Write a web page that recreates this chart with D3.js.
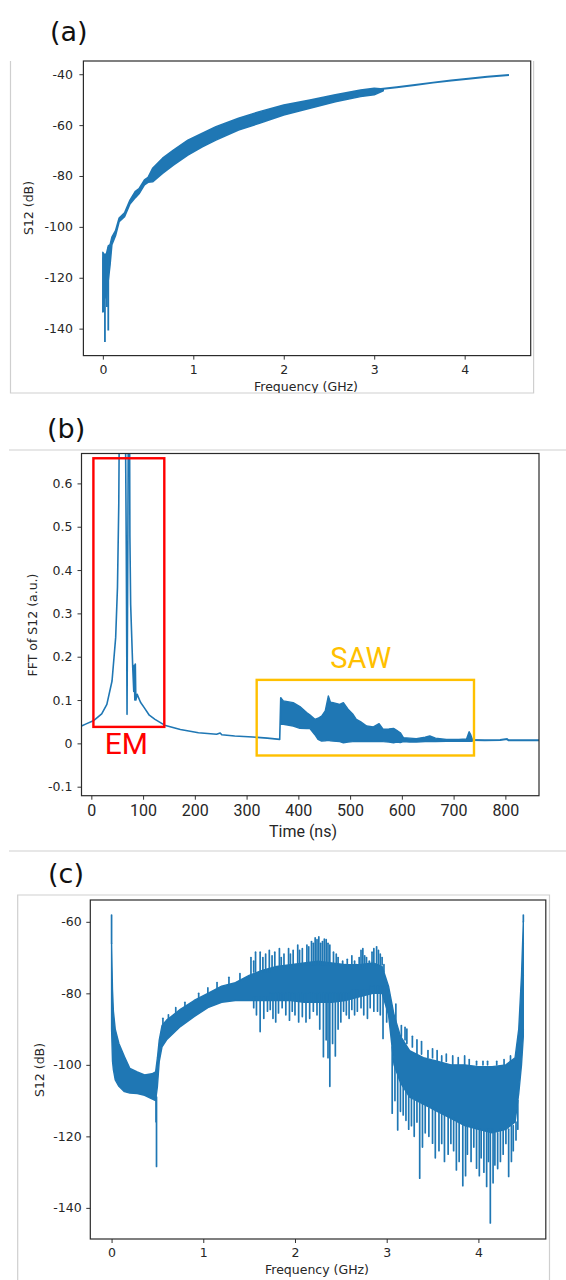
<!DOCTYPE html>
<html>
<head>
<meta charset="utf-8">
<script src="https://cdn.jsdelivr.net/npm/d3@7"></script>
<style>
body { margin: 0; background: #fff; }
svg { display: block; }
</style>
</head>
<body>
<svg id="fig" width="566" height="1280"></svg>
<script>
// ---------- panel (a): S12 vs frequency ----------
var freqA = [0, 0.02, 0.04, 0.06, 0.08, 0.10, 0.14, 0.18, 0.24, 0.30, 0.36, 0.40, 0.46, 0.50, 0.55, 0.66, 0.78, 0.94, 1.10, 1.25, 1.50, 1.73, 2.00, 2.29, 2.57, 2.85, 3.00, 3.10];
var hiA = [-110, -111, -110.5, -107.5, -107, -104, -101.5, -96.5, -94.5, -89.5, -86, -85, -81.5, -80.5, -77, -73, -69.8, -65.9, -63.2, -60.6, -57.3, -54.7, -52.1, -50.1, -48.1, -46.2, -45.5, -45.8];
var loA = [-133.5, -126, -127.5, -121, -115, -107, -103.5, -98, -96, -91, -88.5, -87, -83.5, -82.5, -82.3, -79, -75.7, -71.8, -68.5, -65.9, -61.9, -59.3, -56, -53.4, -50.8, -48.8, -48.1, -46.5];
var tailFreqA = [3.05, 3.25, 3.45, 3.65, 3.85, 4.04, 4.25, 4.49];
var tailDbA = [-45.9, -45.1, -44.2, -43.3, -42.5, -41.8, -41.0, -40.3];
var spikesA = [[0.005, -112, -133.5], [0.023, -111, -145.3], [0.035, -112, -128.2], [0.045, -110, -131.5], [0.06, -108, -140.7]];
var yTicksA = [-40, -60, -80, -100, -120, -140];
var xTicksA = [0, 1, 2, 3, 4];

// ---------- panel (b): FFT of S12 vs time ----------
var timeB = [-19, -10, 5, 20, 30, 40, 47, 50.5, 53, 55, 65, 67.5, 69, 70.5, 72, 73.5, 74.5, 76, 80, 82, 83, 84, 85, 86, 88.6, 95, 102.5, 112, 123, 141.6, 172, 207, 242, 249, 252, 277, 312, 340, 364, 366];
var ampB = [0.040, 0.045, 0.053, 0.068, 0.09, 0.144, 0.244, 0.36, 0.55, 0.9, 0.9, 0.45, 0.067, 0.45, 0.9, 0.9, 0.48, 0.32, 0.175, 0.12, 0.18, 0.10, 0.183, 0.10, 0.113, 0.095, 0.082, 0.065, 0.0555, 0.042, 0.032, 0.0245, 0.021, 0.024, 0.02, 0.017, 0.0146, 0.012, 0.0093, 0.1055];
var sawT = [366, 371, 390, 403, 416, 422, 432, 438, 445, 452, 458, 462, 467, 480, 487, 496, 505, 512, 520, 532, 545, 556, 564, 575, 584, 590, 597, 603, 615, 628, 645, 654, 665, 686, 710, 725, 730, 733, 736];
var sawHi = [0.1055, 0.098, 0.094, 0.085, 0.071, 0.066, 0.0555, 0.058, 0.063, 0.075, 0.1095, 0.095, 0.094, 0.09, 0.094, 0.079, 0.068, 0.0555, 0.05, 0.04, 0.038, 0.0454, 0.0324, 0.033, 0.0345, 0.03, 0.0245, 0.013, 0.012, 0.011, 0.014, 0.017, 0.012, 0.009, 0.009, 0.01, 0.0269, 0.02, 0.01];
var sawLo = [0.044, 0.044, 0.04, 0.0347, 0.034, 0.0347, 0.02, 0.0093, 0.0053, 0.006, 0.007, 0.006, 0.0053, 0.004, 0.0015, 0.003, 0.004, 0.005, 0.004, 0.005, 0.004, 0.005, 0.004, 0.003, 0.0015, 0.003, 0.002, 0.004, 0.003, 0.003, 0.004, 0.004, 0.004, 0.005, 0.005, 0.005, 0.005, 0.005, 0.005];
var tailT = [736, 760, 790, 803, 806, 820, 865];
var tailV = [0.008, 0.007, 0.0078, 0.010, 0.007, 0.007, 0.007];
var emBox = [4, 141, 0.038, 0.658];       // t0, t1, v0, v1
var sawBox = [319.5, 739.4, -0.028, 0.1465];
var yTicksB = [0.6, 0.5, 0.4, 0.3, 0.2, 0.1, 0, -0.1];
var xTicksB = [0, 100, 200, 300, 400, 500, 600, 700, 800];

// ---------- panel (c): S12 vs frequency (gated) ----------
var coreF = [0.00, 0.01, 0.02, 0.04, 0.08, 0.14, 0.20, 0.28, 0.36, 0.44, 0.48, 0.50, 0.52, 0.55, 0.60, 0.75, 0.90, 1.05, 1.20, 1.35, 1.50, 1.65, 1.80, 1.95, 2.10, 2.25, 2.40, 2.55, 2.70, 2.85, 2.95, 3.02, 3.08, 3.15, 3.25, 3.40, 3.55, 3.70, 3.85, 4.00, 4.15, 4.30, 4.40, 4.44, 4.47, 4.49];
var coreHi = [-66, -79, -85, -90, -94, -97.7, -101, -102, -102.8, -102.5, -102, -98, -93, -89, -87.5, -84.5, -82, -80, -78, -77, -75, -73.5, -72.5, -72, -71.5, -71, -71.5, -72, -72, -71.5, -72.5, -78, -86, -92, -96, -98, -99, -100, -100, -100.5, -100.5, -100, -98, -90, -75, -60];
var coreLo = [-90, -99, -101.4, -104.2, -106, -107.5, -107.9, -108, -108.5, -109.5, -110, -106, -99, -95, -93, -89.3, -86.5, -84, -82.5, -82, -82, -82, -82, -82, -82.5, -82.5, -82.5, -82, -81, -80, -80, -86, -100, -105, -109, -111, -113, -115, -117, -118, -119, -118, -116, -108, -100, -92];
var spikesUpC = [[0.0, -66, -58.1], [4.49, -60, -58.1],
    [0.56, -89, -87], [0.62, -87.5, -86], [0.70, -85.5, -84], [0.80, -84, -82.5], [0.95, -81.5, -80], [1.05, -80, -78.5], [1.15, -78.5, -77], [1.28, -77.5, -75.5], [1.40, -76.5, -74.5],
    [1.52, -75, -70], [1.55, -74, -71], [1.57, -74, -68.5], [1.62, -74, -68.5], [1.65, -74, -70], [1.68, -74, -69], [1.72, -74, -68], [1.75, -73, -69.5], [1.78, -73, -68.5], [1.83, -73, -67.5], [1.85, -73, -70], [1.88, -73, -69], [1.93, -73, -67.5], [1.95, -73, -69], [1.98, -73, -68],
    [2.03, -72, -66.5], [2.05, -72, -68], [2.08, -72, -67.5], [2.13, -72, -66.5], [2.15, -72, -67], [2.18, -72, -65.5], [2.20, -72, -66], [2.22, -72, -64.5], [2.24, -72, -65], [2.26, -72, -64.2], [2.28, -72, -66], [2.30, -72, -65.5], [2.32, -72, -64.8], [2.34, -72, -65], [2.36, -72, -66], [2.38, -72, -66.5], [2.42, -72, -68.5], [2.45, -72, -69], [2.47, -72, -70], [2.52, -72, -71], [2.55, -73, -72], [2.57, -73, -70.5], [2.62, -73, -69.5], [2.65, -73, -71], [2.67, -73, -72], [2.70, -73, -70], [2.72, -73, -68], [2.74, -73, -67.5], [2.76, -73, -69.5], [2.78, -73, -70], [2.81, -72, -71], [2.84, -72, -68.5], [2.86, -72, -67.5], [2.89, -72, -67], [2.91, -72, -68], [2.93, -72, -69], [2.95, -72, -70], [2.97, -74, -72],
    [3.10, -88, -83], [3.16, -92, -89], [3.20, -93, -89.5], [3.22, -94, -90], [3.28, -95, -92], [3.33, -97, -93], [3.38, -97, -93.5], [3.45, -98, -96], [3.50, -98, -95.5], [3.55, -99, -96], [3.60, -99, -97.5], [3.65, -99, -97], [3.72, -100, -97.5], [3.78, -100, -98], [3.85, -100, -97.5], [3.90, -100, -98.5], [3.98, -100, -99], [4.05, -100, -99], [4.10, -100, -99], [4.20, -100, -99], [4.28, -100, -98.5], [4.35, -99, -97.5]];
var spikesDownC = [[0.485, -109, -115.9], [0.49, -109, -128.4],
    [1.55, -81, -84], [1.58, -81, -86], [1.62, -81, -90.7], [1.66, -81, -87], [1.70, -81, -85], [1.73, -80, -84.5], [1.76, -80, -87], [1.79, -80, -88], [1.82, -80, -85.5], [1.86, -80, -84], [1.90, -80, -86], [1.94, -80, -87.5], [1.97, -80, -85], [2.00, -80, -86], [2.04, -80, -88], [2.08, -80, -86.5], [2.12, -80, -88], [2.16, -80, -87], [2.20, -80, -85], [2.24, -80, -86], [2.27, -80, -90], [2.31, -80, -97.7], [2.34, -80, -93], [2.36, -80, -98], [2.38, -80, -106], [2.41, -80, -94], [2.44, -80, -97.5], [2.47, -80, -90], [2.50, -80, -88], [2.53, -80, -85], [2.56, -80, -86], [2.59, -80, -87], [2.62, -79, -84.5], [2.65, -79, -86], [2.68, -79, -85], [2.72, -79, -84], [2.75, -79, -86], [2.79, -79, -87], [2.82, -78, -84], [2.86, -78, -85], [2.90, -78, -85], [2.93, -78, -86], [2.96, -78, -92.6], [3.00, -78, -88],
    [3.06, -95, -113.5], [3.09, -100, -110], [3.12, -103, -118.2], [3.15, -105, -113], [3.18, -106, -114], [3.21, -107, -115.5], [3.24, -108, -118], [3.27, -109, -117], [3.30, -110, -120], [3.33, -110, -116], [3.36, -110, -131.7], [3.39, -111, -123], [3.42, -111, -119], [3.46, -112, -120], [3.50, -112, -121.9], [3.53, -112, -126], [3.57, -113, -124], [3.60, -113, -122], [3.63, -114, -127], [3.67, -114, -125], [3.70, -115, -122], [3.73, -115, -124], [3.76, -116, -129.4], [3.79, -116, -127], [3.83, -117, -133.8], [3.86, -117, -131], [3.88, -117, -125], [3.92, -117, -127], [3.95, -117, -123], [3.98, -118, -128.9], [4.01, -118, -131], [4.03, -118, -126], [4.06, -118, -130], [4.09, -118, -134], [4.11, -118, -127], [4.13, -118, -144.2], [4.16, -118, -133], [4.18, -119, -128], [4.21, -119, -129], [4.24, -118, -127], [4.27, -118, -125], [4.30, -118, -122], [4.33, -118, -131.2], [4.36, -117, -127], [4.38, -117, -124], [4.41, -116, -121], [4.43, -110, -118]];
var yTicksC = [-60, -80, -100, -120, -140];
var xTicksC = [0, 1, 2, 3, 4];

var blue = "#1f77b4";
var tickFont = "DejaVu Sans";
var tickSize = "12.5px";
var svg = d3.select("#fig");
var defs = svg.append("defs");

// light gray screenshot borders
var gray = svg.append("g").attr("stroke", "#cfcfcf").attr("stroke-width", 1.2).attr("fill", "none");
gray.append("path").attr("d", "M10.5,61 V393 H533.6 V61");
gray.append("line").attr("x1", 9).attr("x2", 566).attr("y1", 450).attr("y2", 450);
gray.append("line").attr("x1", 9).attr("x2", 566).attr("y1", 851).attr("y2", 851);
gray.append("path").attr("d", "M17.7,1280 V895 H549.5 V1280");

// panel letters
[["(a)", 50, 41], ["(b)", 47, 438], ["(c)", 48, 883]].forEach(function(p){
    svg.append("text").attr("x", p[1]).attr("y", p[2]).text(p[0])
        .style("font-family", "DejaVu Sans").style("font-size", "27px").style("fill", "#111");
});

function makeClip(id, x0, y0, x1, y1){
    defs.append("clipPath").attr("id", id).append("rect")
        .attr("x", x0).attr("y", y0).attr("width", x1 - x0).attr("height", y1 - y0);
}

function drawAxes(g, x, y, opt){
    var xr = x.range(), yr = y.range();
    var gx = g.append("g").attr("transform", "translate(0," + yr[0] + ")")
        .call(d3.axisBottom(x).tickValues(opt.xTicks).tickFormat(function(d){return String(d);})
            .tickSize(4).tickPadding(opt.xPad));
    var gy = g.append("g").attr("transform", "translate(" + xr[0] + ",0)")
        .call(d3.axisLeft(y).tickValues(opt.yTicks).tickFormat(function(d){return String(d);})
            .tickSize(4).tickPadding(opt.yPad));
    [gx, gy].forEach(function(a){
        a.select(".domain").remove();
        a.selectAll(".tick line").attr("stroke", "#333");
    });
    gy.selectAll("text").style("font-family", tickFont).style("font-size", tickSize).style("fill", "#262626");
    gx.selectAll("text").style("font-family", opt.xFont).style("font-size", opt.xSize).style("fill", "#262626");
    g.append("rect").attr("x", xr[0]).attr("y", yr[1]).attr("width", xr[1] - xr[0]).attr("height", yr[0] - yr[1])
        .attr("fill", "none").attr("stroke", "#2b2b2b").attr("stroke-width", 1.2);
}

function yLabel(g, txt, cx, cy){
    g.append("text").attr("transform", "translate(" + cx + "," + cy + ") rotate(-90)")
        .attr("text-anchor", "middle").attr("dy", "0.35em").text(txt)
        .style("font-family", tickFont).style("font-size", tickSize).style("fill", "#262626");
}

// ---------- draw (a) ----------
var gA = svg.append("g");
var xA = d3.scaleLinear().domain([-0.215, 4.73]).range([83.4, 530.7]);
var yA = d3.scaleLinear().domain([-150.6, -34.8]).range([355.6, 61]);
makeClip("clipA", 83.4, 61, 530.7, 355.6);
var plotA = gA.append("g").attr("clip-path", "url(#clipA)");
plotA.append("path").datum(d3.range(freqA.length))
    .attr("d", d3.area().x(function(i){return xA(freqA[i]);}).y0(function(i){return yA(loA[i]);}).y1(function(i){return yA(hiA[i]);}))
    .attr("fill", blue).attr("stroke", blue).attr("stroke-width", 1.5).attr("stroke-linejoin", "round");
plotA.append("path").datum(d3.range(tailFreqA.length))
    .attr("d", d3.line().x(function(i){return xA(tailFreqA[i]);}).y(function(i){return yA(tailDbA[i]);}))
    .attr("fill", "none").attr("stroke", blue).attr("stroke-width", 2);
plotA.selectAll("line.sp").data(spikesA).enter().append("line")
    .attr("x1", function(d){return xA(d[0]);}).attr("x2", function(d){return xA(d[0]);})
    .attr("y1", function(d){return yA(d[1]);}).attr("y2", function(d){return yA(d[2]);})
    .attr("stroke", blue).attr("stroke-width", 1.8);
drawAxes(gA, xA, yA, {xTicks: xTicksA, yTicks: yTicksA, xPad: 6, yPad: 6.5, xFont: tickFont, xSize: tickSize});
yLabel(gA, "S12 (dB)", 29, 208);
makeClip("clipAL", 0, 0, 566, 393);
gA.append("text").attr("clip-path", "url(#clipAL)").attr("x", 306).attr("y", 390.5).attr("text-anchor", "middle")
    .text("Frequency (GHz)").style("font-family", tickFont).style("font-size", tickSize).style("fill", "#262626");

// ---------- draw (b) ----------
var gB = svg.append("g");
var xB = d3.scaleLinear().domain([-19, 865]).range([81.5, 539]);
var yB = d3.scaleLinear().domain([-0.1208, 0.669]).range([795.7, 453.5]);
makeClip("clipB", 81.5, 453.5, 539, 795.7);
var plotB = gB.append("g").attr("clip-path", "url(#clipB)");
plotB.append("path").datum(d3.range(timeB.length))
    .attr("d", d3.line().x(function(i){return xB(timeB[i]);}).y(function(i){return yB(ampB[i]);}))
    .attr("fill", "none").attr("stroke", blue).attr("stroke-width", 1.6).attr("stroke-linejoin", "round");
plotB.append("path").datum(d3.range(sawT.length))
    .attr("d", d3.area().x(function(i){return xB(sawT[i]);}).y0(function(i){return yB(sawLo[i]);}).y1(function(i){return yB(sawHi[i]);}))
    .attr("fill", blue).attr("stroke", blue).attr("stroke-width", 1.4).attr("stroke-linejoin", "round");
plotB.append("path").datum(d3.range(tailT.length))
    .attr("d", d3.line().x(function(i){return xB(tailT[i]);}).y(function(i){return yB(tailV[i]);}))
    .attr("fill", "none").attr("stroke", blue).attr("stroke-width", 2);
drawAxes(gB, xB, yB, {xTicks: xTicksB, yTicks: yTicksB, xPad: 5, yPad: 5, xFont: "Roboto", xSize: "16px"});
yLabel(gB, "FFT of S12 (a.u.)", 32.5, 625);
gB.append("text").attr("x", 303).attr("y", 837).attr("text-anchor", "middle").text("Time (ns)")
    .style("font-family", "Roboto").style("font-size", "16px").style("fill", "#262626");
// annotation boxes
[[emBox, "#ff0000"], [sawBox, "#ffc000"]].forEach(function(b){
    var r = b[0];
    gB.append("rect").attr("x", xB(r[0])).attr("y", yB(r[3]))
        .attr("width", xB(r[1]) - xB(r[0])).attr("height", yB(r[2]) - yB(r[3]))
        .attr("fill", "none").attr("stroke", b[1]).attr("stroke-width", 2.4);
});
gB.append("text").attr("x", xB(67.8)).attr("y", yB(-0.0255)).attr("text-anchor", "middle").text("EM")
    .style("font-family", "Roboto").style("font-size", "30px").style("fill", "#ff0000");
gB.append("text").attr("x", xB(520.7)).attr("y", yB(0.175)).attr("text-anchor", "middle").text("SAW")
    .style("font-family", "Roboto").style("font-size", "29px").style("fill", "#ffc000");

// ---------- draw (c) ----------
var gC = svg.append("g");
var xC = d3.scaleLinear().domain([-0.232, 4.735]).range([90.3, 545.8]);
var yC = d3.scaleLinear().domain([-148.7, -53.9]).range([1239, 900]);
makeClip("clipC", 90.3, 900, 545.8, 1239);
var plotC = gC.append("g").attr("clip-path", "url(#clipC)");
plotC.append("path").datum(d3.range(coreF.length))
    .attr("d", d3.area().x(function(i){return xC(coreF[i]);}).y0(function(i){return yC(coreLo[i]);}).y1(function(i){return yC(coreHi[i]);}))
    .attr("fill", blue).attr("stroke", blue).attr("stroke-width", 1.4).attr("stroke-linejoin", "round");
plotC.selectAll("line.sp").data(spikesUpC.concat(spikesDownC)).enter().append("line")
    .attr("x1", function(d){return xC(d[0]);}).attr("x2", function(d){return xC(d[0]);})
    .attr("y1", function(d){return yC(d[1]);}).attr("y2", function(d){return yC(d[2]);})
    .attr("stroke", blue).attr("stroke-width", 1.7).attr("stroke-linecap", "round");
drawAxes(gC, xC, yC, {xTicks: xTicksC, yTicks: yTicksC, xPad: 5.3, yPad: 4.6, xFont: tickFont, xSize: tickSize});
yLabel(gC, "S12 (dB)", 40, 1070);
gC.append("text").attr("x", 317).attr("y", 1274).attr("text-anchor", "middle").text("Frequency (GHz)")
    .style("font-family", tickFont).style("font-size", tickSize).style("fill", "#262626");
</script>
</body>
</html>
